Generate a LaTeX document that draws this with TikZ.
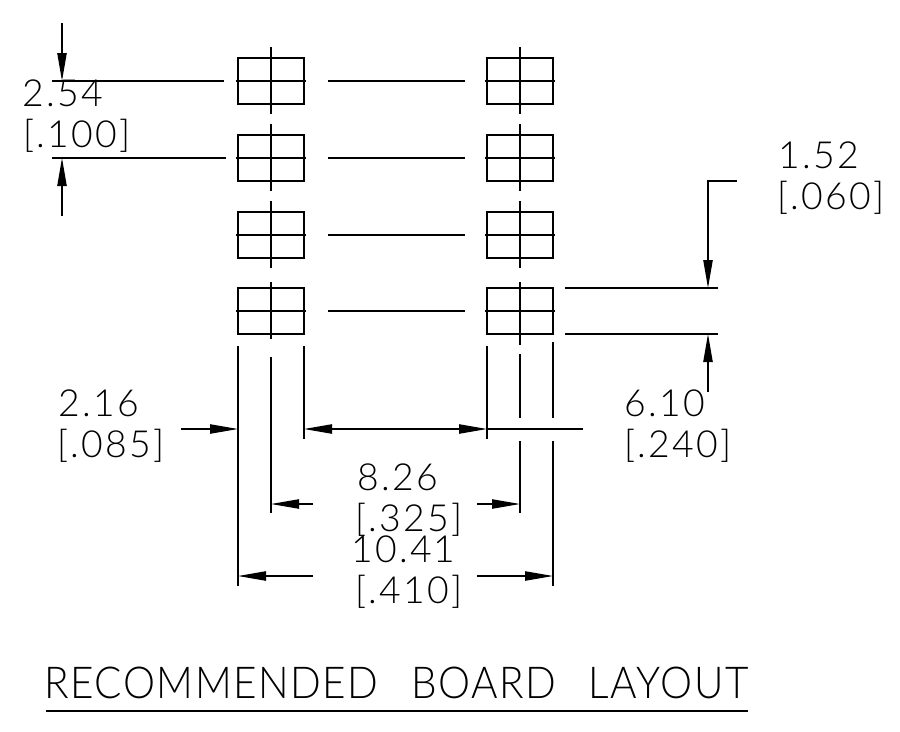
\documentclass[tikz,border=0pt]{standalone}
\usepackage{fontspec}
\usetikzlibrary{arrows.meta}
\setmainfont[UprightFont=* Light, LetterSpace=6]{Lato}
\newfontfamily\titlefont[UprightFont=* Light, FakeStretch=0.92, LetterSpace=3.5, WordSpace=2.6]{Lato}
\begin{document}
\begin{tikzpicture}
[
    x=0.75pt, y=-0.75pt,
    pad/.style={draw, line width=1.9pt, minimum width=49.5pt, minimum height=34.5pt, inner sep=0pt},
    thin line/.style={line width=0.9pt},
    dim/.style={thin line, -{Triangle[length=21pt, width=7pt]}},
    dimboth/.style={thin line, {Triangle[length=21pt, width=7pt]}-{Triangle[length=21pt, width=7pt]}},
    size/.style={anchor=base west, inner sep=0pt, align=left, font=\fontsize{28}{30}\selectfont},
]
\useasboundingbox (0,0) rectangle (900,732);
% pads
\node [pad] (pad a1) at (271,81) {};
\node [pad] (pad a2) at (271,158) {};
\node [pad] (pad a3) at (271,235) {};
\node [pad] (pad a4) at (271,311) {};
\node [pad] (pad b1) at (520,81) {};
\node [pad] (pad b2) at (520,158) {};
\node [pad] (pad b3) at (520,235) {};
\node [pad] (pad b4) at (520,311) {};
% pad centre lines
\draw [thin line] (271,47) -- (271,114) (271,124) -- (271,191) (271,201) -- (271,268) (271,282) -- (271,339);
\draw [thin line] (520,47) -- (520,114) (520,124) -- (520,191) (520,201) -- (520,268) (520,282) -- (520,345);
\draw [thin line] (236,81) -- (306,81) (236,158) -- (306,158) (236,235) -- (306,235) (236,311) -- (306,311);
\draw [thin line] (485,81) -- (555,81) (485,158) -- (555,158) (485,235) -- (555,235) (485,311) -- (555,311);
\draw [thin line] (328,81) -- (465,81) (328,158) -- (465,158) (328,235) -- (465,235) (328,311) -- (465,311);
% extension lines
\draw [thin line] (52,81) -- (224,81) (52,158) -- (226,158);
\draw [thin line] (565,288) -- (718,288) (565,334) -- (718,334);
\draw [thin line] (238,346) -- (238,586) (304,346) -- (304,439) (487,346) -- (487,439);
\draw [thin line] (271,357) -- (271,513) (520,354) -- (520,418) (520,441) -- (520,513);
\draw [thin line] (553,342) -- (553,418) (553,441) -- (553,586);
% dimensions
\draw [dim] (62,23) -- (62,81);
\draw [dim] (62,216) -- (62,158);
\draw [dim] (737,181) -- (708,181) -- (708,288);
\draw [dim] (708,392) -- (708,334);
\draw [dim] (181,429) -- (238,429);
\draw [dimboth] (304,429) -- (487,429);
\draw [thin line] (487,429) -- (583,429);
\draw [dim] (313,504) -- (271,504);
\draw [dim] (477,504) -- (520,504);
\draw [dim] (313,576) -- (238,576);
\draw [dim] (477,576) -- (553,576);
% labels
\node [size] (pitch) at (22,106) {2.54};
\node [size] (pitch inch) at (23,147) {[.100]};
\node [size] (pad height) at (778,168) {1.52};
\node [size] (pad height inch) at (777,209) {[.060]};
\node [size] (pad width) at (58,416) {2.16};
\node [size] (pad width inch) at (57,457) {[.085]};
\node [size] (gap) at (624,416) {6.10};
\node [size] (gap inch) at (624,457) {[.240]};
\node [size] (centre) at (357,490) {8.26};
\node [size] (centre inch) at (355,531) {[.325]};
\node [size] (overall) at (351,562) {10.41};
\node [size] (overall inch) at (355,603) {[.410]};
\node [anchor=base west, inner sep=0pt, font=\titlefont\fontsize{33}{36}\selectfont] (title) at (44,698) {RECOMMENDED BOARD LAYOUT};
\draw [thin line] (46,711) -- (748,711);
\end{tikzpicture}
\end{document}
